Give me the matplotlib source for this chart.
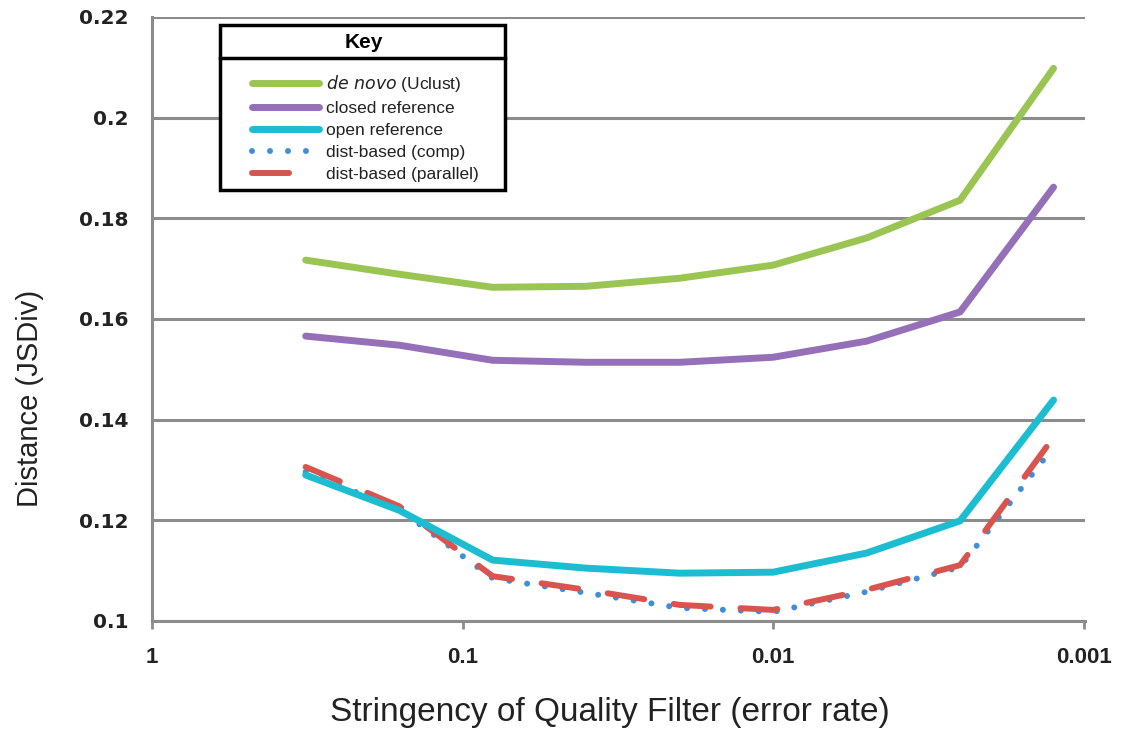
import matplotlib
matplotlib.use("Agg")
import matplotlib.pyplot as plt
from matplotlib.patches import Rectangle
from matplotlib.lines import Line2D

# error rates (x) and distances for each method
error_rate = [0.32, 0.16, 0.08, 0.04, 0.02, 0.01, 0.005, 0.0025, 0.00125]
de_novo = [0.1717, 0.1689, 0.1663, 0.1665, 0.1681, 0.1707, 0.1761, 0.1836, 0.2098]
closed_ref = [0.1566, 0.1548, 0.1518, 0.1514, 0.1514, 0.1524, 0.1556, 0.1614, 0.1862]
open_ref = [0.1290, 0.1220, 0.1121, 0.1105, 0.1095, 0.1097, 0.1135, 0.1199, 0.1439]
dist_comp = [0.1296, 0.1222, 0.1085, 0.1056, 0.1026, 0.1018, 0.1058, 0.1107, 0.1346]
dist_parallel = [0.1306, 0.1228, 0.1089, 0.1062, 0.1032, 0.1022, 0.1062, 0.1111, 0.1365]

x_ticks = [1, 0.1, 0.01, 0.001]
x_ticklabels = ['1', '0.1', '0.01', '0.001']
y_ticks = [0.1, 0.12, 0.14, 0.16, 0.18, 0.2, 0.22]
y_ticklabels = ['0.1', '0.12', '0.14', '0.16', '0.18', '0.2', '0.22']

plt.rcParams['font.family'] = ['Liberation Sans', 'DejaVu Sans']

W, H = 1125, 731
fig = plt.figure(figsize=(W / 100, H / 100), dpi=100)
ax = fig.add_axes([152 / W, 1 - 621 / H, (1085 - 152) / W, (621 - 17) / H])

txt_col = '#222222'
grid_col = '#8c8c8c'
ax.set_xscale('log')
ax.set_xlim(1, 0.00099)
ax.set_ylim(0.1, 0.22)
ax.set_yticks(y_ticks)
ax.set_yticklabels(y_ticklabels, fontsize=14.5, fontweight='bold', family='DejaVu Sans', color=txt_col)
ax.set_xticks(x_ticks)
ax.set_xticklabels(x_ticklabels, fontsize=16, fontweight='bold', color=txt_col)
ax.minorticks_off()
ax.tick_params(axis='y', length=0, pad=17)
ax.tick_params(axis='x', direction='out', length=6, width=2, color=grid_col, pad=13)

ax.yaxis.grid(True, color=grid_col, linewidth=2.2)
ax.set_axisbelow(True)
for s in ['top', 'right']:
    ax.spines[s].set_visible(False)
for s in ['left', 'bottom']:
    ax.spines[s].set_color(grid_col)
    ax.spines[s].set_linewidth(2.2)

lw = 5.0
c_green, c_purple, c_cyan = '#9bc553', '#9570b8', '#1cbdd1'
c_blue, c_red = '#3f8ed8', '#d9534f'
dots = (0, (0.01, 3.0))
dashes = (0, (6.2, 5.0))

ax.plot(error_rate, de_novo, color=c_green, lw=lw, solid_capstyle='round', clip_on=False)
ax.plot(error_rate, closed_ref, color=c_purple, lw=lw, solid_capstyle='round', clip_on=False)
ax.plot(error_rate, dist_comp, color=c_blue, lw=4.3, linestyle=dots,
        dash_capstyle='round', clip_on=False)
ax.plot(error_rate, dist_parallel, color=c_red, lw=4.3, linestyle=dashes,
        dash_capstyle='round', clip_on=False)
ax.plot(error_rate, open_ref, color=c_cyan, lw=lw, solid_capstyle='round', clip_on=False)

fig.text(610 / W, 1 - 712 / H, 'Stringency of Quality Filter (error rate)', fontsize=24,
         ha='center', va='center', color=txt_col)
fig.text(30 / W, 1 - 398 / H, 'Distance (JSDiv)', fontsize=21, rotation=90,
         ha='center', va='center', color=txt_col)

# key box
def px(x, y):
    return x / W, 1 - y / H

fig.patches.append(Rectangle(px(220, 190), 285 / W, 165 / H, transform=fig.transFigure,
                             facecolor='white', edgecolor='black', linewidth=2.5, zorder=5))
fig.lines.append(Line2D([220 / W, 505 / W], [1 - 58 / H] * 2, transform=fig.transFigure,
                        color='black', linewidth=2.5, zorder=6))
fig.text(*px(364, 42), 'Key', ha='center', va='center', fontsize=15, fontweight='bold', zorder=7)

handles = [
    Line2D([], [], color=c_green, lw=lw, solid_capstyle='round'),
    Line2D([], [], color=c_purple, lw=lw, solid_capstyle='round'),
    Line2D([], [], color=c_cyan, lw=lw, solid_capstyle='round'),
    Line2D([], [], color=c_blue, lw=4.3, linestyle=dots, dash_capstyle='round'),
    Line2D([], [], color=c_red, lw=4.3, linestyle=(0, (6.2, 30)), dash_capstyle='round'),
]
labels = ['$\\it{de\\ novo}$ (Uclust)', 'closed reference', 'open reference',
          'dist-based (comp)', 'dist-based (parallel)']
leg = fig.legend(handles, labels, loc='upper left', bbox_to_anchor=px(243, 64),
                 frameon=False, fontsize=12.5, handlelength=3.85, handletextpad=0.45,
                 labelspacing=0.4, borderpad=0)
leg.set_zorder(8)
for t in leg.get_texts():
    t.set_color(txt_col)

fig.savefig('out.png', dpi=100)
